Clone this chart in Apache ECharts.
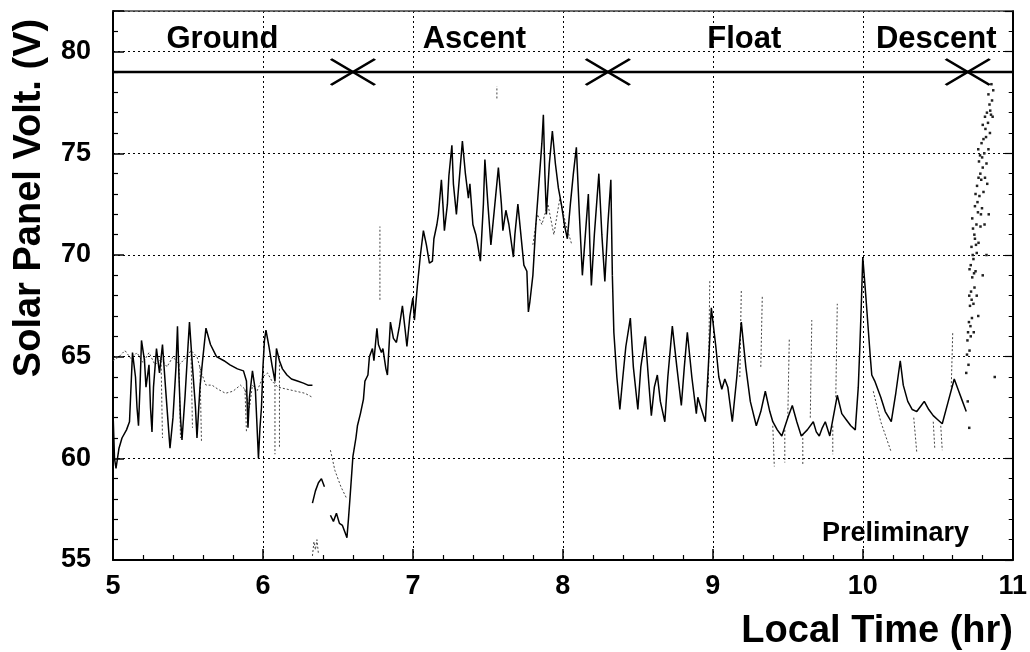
<!DOCTYPE html>
<html>
<head>
<meta charset="utf-8">
<script src="https://cdn.jsdelivr.net/npm/echarts@6/dist/echarts.min.js"></script>
<style>html,body{margin:0;padding:0;background:#fff}#c{width:1030px;height:652px}</style>
</head>
<body>
<div id="c"></div>
<script>
// ---- data (Local Time in hr, Solar Panel Voltage in V) ----
const groundTrace = [[5.00,62.3],[5.01,60.0],[5.02,59.5],[5.04,60.5],[5.06,61.0],[5.09,61.4],[5.11,61.8],[5.12,63.5],[5.13,65.2],[5.15,64.0],[5.16,62.5],[5.17,61.6],[5.18,63.5],[5.19,65.8],[5.21,64.8],[5.22,63.5],[5.24,64.6],[5.25,62.5],[5.26,61.3],[5.27,63.5],[5.29,65.4],[5.31,64.2],[5.33,65.6],[5.35,63.5],[5.37,61.5],[5.38,60.5],[5.40,62.0],[5.42,64.5],[5.43,66.5],[5.44,64.0],[5.45,62.0],[5.46,60.9],[5.48,63.0],[5.50,65.5],[5.51,66.7],[5.53,64.5],[5.55,62.5],[5.56,61.0],[5.58,63.5],[5.60,65.0],[5.62,66.4],[5.65,65.6],[5.69,65.0],[5.74,64.8],[5.78,64.6],[5.83,64.4],[5.87,64.3],[5.89,63.8],[5.90,61.5],[5.91,63.0],[5.93,64.3],[5.95,63.3],[5.97,60.0],[5.98,61.5],[5.99,62.5],[6.00,64.5],[6.01,65.8],[6.02,66.3],[6.04,65.5],[6.06,64.6],[6.08,63.8],[6.09,65.4],[6.11,64.8],[6.13,64.4],[6.16,64.1],[6.19,63.9],[6.23,63.8],[6.27,63.7],[6.30,63.6],[6.33,63.6]];
const lowAscentA = [[6.33,57.8],[6.35,58.4],[6.37,58.8],[6.39,59.0],[6.41,58.6]];
const ascentTrace = [[6.45,57.2],[6.47,56.9],[6.49,57.3],[6.51,56.8],[6.53,56.7],[6.55,56.3],[6.56,56.1],[6.57,57.0],[6.58,58.0],[6.60,60.1],[6.62,61.0],[6.63,61.6],[6.65,62.2],[6.67,62.9],[6.68,63.8],[6.70,64.1],[6.71,65.0],[6.73,65.4],[6.74,64.8],[6.76,66.4],[6.77,65.6],[6.79,65.2],[6.80,65.4],[6.82,64.4],[6.83,64.1],[6.85,66.7],[6.87,65.9],[6.89,65.7],[6.91,66.5],[6.93,67.5],[6.95,66.2],[6.96,65.5],[6.98,67.0],[7.00,67.9],[7.01,66.8],[7.03,68.5],[7.05,70.0],[7.07,71.2],[7.09,70.5],[7.11,69.6],[7.13,69.7],[7.14,70.8],[7.16,71.5],[7.17,72.0],[7.19,73.7],[7.20,72.5],[7.21,71.2],[7.23,72.5],[7.24,73.9],[7.26,75.4],[7.27,73.5],[7.29,72.0],[7.31,73.8],[7.33,75.6],[7.35,74.0],[7.37,72.8],[7.38,73.5],[7.40,71.5],[7.42,71.0],[7.43,70.6],[7.45,69.7],[7.47,72.5],[7.48,74.7],[7.50,72.5],[7.52,70.5],[7.54,72.0],[7.57,74.3],[7.59,72.5],[7.60,71.2],[7.62,72.2],[7.64,71.5],[7.67,69.9],[7.68,71.0],[7.70,72.5],[7.72,71.0],[7.74,69.5],[7.76,69.2],[7.77,67.2],[7.78,67.7],[7.80,69.0],[7.82,71.5],[7.84,73.5],[7.86,75.5],[7.87,76.9],[7.88,74.0],[7.89,72.0],[7.91,74.5],[7.93,76.1],[7.95,74.5],[7.97,73.3],[7.99,72.5],[8.01,71.5],[8.03,70.8],[8.05,72.5],[8.07,74.0],[8.09,75.3],[8.11,72.0],[8.13,69.0],[8.15,71.0],[8.17,73.0],[8.18,70.5],[8.19,68.5],[8.21,71.0],[8.24,74.0],[8.26,71.0],[8.28,68.7],[8.30,71.5],[8.32,73.7],[8.33,69.0]];
const floatTrace = [[8.33,69.0],[8.34,66.2],[8.36,64.0],[8.38,62.4],[8.40,64.0],[8.42,65.5],[8.45,66.9],[8.47,64.5],[8.50,62.4],[8.52,64.5],[8.55,66.0],[8.57,64.0],[8.59,62.1],[8.61,63.5],[8.63,64.1],[8.65,62.8],[8.68,61.8],[8.70,64.0],[8.73,66.5],[8.76,64.5],[8.79,62.6],[8.81,64.5],[8.83,66.2],[8.86,64.0],[8.89,62.2],[8.90,63.0],[8.92,62.5],[8.95,61.8],[8.97,64.5],[8.99,67.4],[9.02,65.5],[9.04,64.0],[9.06,63.4],[9.08,63.9],[9.10,63.5],[9.13,61.8],[9.16,64.0],[9.19,66.7],[9.22,64.5],[9.25,62.8],[9.29,61.6],[9.32,62.3],[9.35,63.3],[9.38,62.3],[9.40,61.8],[9.43,61.4],[9.46,61.1],[9.50,62.0],[9.53,62.6],[9.56,61.8],[9.59,61.1],[9.63,61.4],[9.67,61.8],[9.69,61.3],[9.71,61.1],[9.73,61.5],[9.75,61.8],[9.78,61.1],[9.81,62.3],[9.83,63.1],[9.86,62.2],[9.89,61.9],[9.92,61.6],[9.95,61.4],[9.97,63.5],[9.98,65.4],[9.99,67.5],[10.00,69.9],[10.02,68.0],[10.03,67.0],[10.05,65.0],[10.06,64.1],[10.08,63.8],[10.09,63.8],[10.12,63.0],[10.15,62.3],[10.19,61.8],[10.22,63.2],[10.25,64.8],[10.27,63.6],[10.30,62.8],[10.33,62.4],[10.36,62.3],[10.39,62.6],[10.41,62.8],[10.44,62.4],[10.47,62.1],[10.50,61.9],[10.53,61.7],[10.57,62.8],[10.61,63.9],[10.64,63.3],[10.66,62.9],[10.69,62.3]];
// fainter overlapping traces (each is a separate stroke)
const lightTraces = [
  [[5.00,64.8],[5.04,65.0],[5.08,65.3],[5.12,64.9],[5.16,65.2],[5.20,64.7],[5.24,65.2],[5.28,64.6],[5.32,64.9],[5.36,64.5],[5.40,65.0],[5.44,64.6],[5.48,64.9],[5.52,65.3],[5.56,65.0],[5.59,64.2],[5.62,63.6],[5.66,63.6],[5.70,63.4],[5.75,63.2],[5.80,63.3],[5.85,63.6],[5.88,63.4],[5.91,62.5],[5.93,63.6],[5.96,63.3],[6.00,64.0],[6.03,64.2],[6.06,63.8],[6.10,63.5],[6.16,63.4],[6.22,63.3],[6.28,63.2],[6.33,63.0]],
  [[5.32,65.0],[5.33,61.0]], [[5.44,64.6],[5.45,61.0]], [[5.52,65.3],[5.53,61.5]], [[5.58,64.5],[5.59,60.8]],
  [[5.88,63.4],[5.89,61.3]], [[6.08,63.8],[6.08,60.2]], [[6.11,64.8],[6.11,60.5]],
  [[6.45,60.4],[6.48,59.4],[6.52,58.6],[6.56,58.0]],
  [[6.33,55.2],[6.34,55.9],[6.35,55.5],[6.36,56.0],[6.37,55.3]],
  [[6.78,67.8],[6.78,71.4]], [[7.56,77.7],[7.56,78.3]],
  [[7.80,70.5],[7.83,72.0],[7.86,71.5],[7.90,72.5],[7.94,71.0],[7.98,72.8],[8.02,71.5],[8.06,70.5]],
  [[8.97,63.5],[8.98,68.8]], [[9.18,64.0],[9.19,68.3]], [[9.32,64.5],[9.33,68.0]], [[9.50,62.0],[9.51,65.9]],
  [[9.65,62.0],[9.66,66.8]], [[9.82,63.0],[9.83,67.6]], [[10.59,63.5],[10.60,66.2]],
  [[9.40,61.6],[9.41,59.6]], [[9.48,61.4],[9.48,59.8]], [[9.60,61.2],[9.60,59.7]], [[9.80,61.6],[9.80,60.2]],
  [[10.07,63.3],[10.12,61.8],[10.19,60.3]], [[10.34,62.0],[10.36,60.3]], [[10.47,61.8],[10.48,60.5]], [[10.52,61.6],[10.53,60.4]]
];
const descentPoints = [[10.690,64.2],[10.705,64.6],[10.712,65.3],[10.698,65.8],[10.720,66.0],[10.708,66.7],[10.728,66.9],[10.715,67.5],[10.738,67.6],[10.722,68.2],[10.745,68.4],[10.730,68.9],[10.712,69.3],[10.752,69.2],[10.738,69.8],[10.760,70.1],[10.725,70.4],[10.748,70.8],[10.772,70.6],[10.735,71.3],[10.758,71.5],[10.785,71.4],[10.768,72.1],[10.748,72.4],[10.795,72.3],[10.778,72.9],[10.805,73.1],[10.762,73.4],[10.790,73.7],[10.815,73.8],[10.800,74.3],[10.775,74.6],[10.825,74.5],[10.810,75.0],[10.838,75.2],[10.792,75.5],[10.822,75.8],[10.848,76.0],[10.835,76.5],[10.815,76.8],[10.855,76.9],[10.845,77.4],[10.862,77.6],[10.870,78.1],[10.858,78.4],[10.840,72.0],[10.825,70.0],[10.800,69.0],[10.770,67.0],[10.700,62.8],[10.710,61.5],[10.880,64.0],
  [10.695,65.1],[10.702,66.2],[10.718,66.5],[10.710,68.0],[10.726,67.8],[10.720,69.5],[10.733,70.0],[10.742,69.1],[10.730,71.8],[10.744,71.0],[10.755,70.5],[10.752,73.0],[10.765,72.6],[10.772,73.8],[10.784,74.0],[10.770,75.2],[10.782,74.9],[10.796,74.8],[10.805,75.7],[10.800,76.4],[10.818,76.2],[10.828,77.0],[10.838,77.9],[10.850,77.1],[10.866,76.8],[10.788,72.0],[10.760,68.0],[10.830,73.5],[10.812,71.5],[10.740,66.2]];
const phaseNames = ['Ground','Ascent','Float','Descent'];
const phaseLabelX = [5.73, 7.41, 9.21, 10.49];
const phaseLabelY = 80.6;
const phaseBoundaries = [6.6, 8.3, 10.7];
const phaseLevel = 79;

const font = 'Liberation Sans';
const mainStyle = {color:'#000', width:1.5};
const series = [];
[groundTrace, lowAscentA, ascentTrace, floatTrace].forEach(seg => series.push({
  type:'line', data:seg, showSymbol:false, lineStyle:mainStyle, silent:true, z:3, animation:false
}));
lightTraces.forEach(seg => series.push({
  type:'line', data:seg, showSymbol:false, lineStyle:{color:'#444', width:1, type:[2,2]}, silent:true, z:2, animation:false
}));
series.push({type:'scatter', data:descentPoints, symbol:'rect', symbolSize:[2.5,2.5], itemStyle:{color:'#222', opacity:1}, silent:true, animation:false});
series.push({type:'line', data:[[5,phaseLevel],[11,phaseLevel]], showSymbol:false, lineStyle:{color:'#000', width:2.5}, silent:true, animation:false});
series.push({type:'scatter', data:phaseBoundaries.map(x=>[x,phaseLevel]), symbol:'path://M0,0 L44,26 M0,26 L44,0', symbolSize:[44,26],
  itemStyle:{color:'none', borderColor:'#000', borderWidth:2.5, opacity:1}, silent:true, animation:false});
series.push({type:'scatter', data:phaseNames.map((n,i)=>({value:[phaseLabelX[i],phaseLabelY], name:n})), symbolSize:0,
  itemStyle:{opacity:1},
  label:{show:true, position:'inside', formatter:p=>p.name, color:'#000', opacity:1, fontFamily:font, fontWeight:'bold', fontSize:31}, silent:true, animation:false});

const chart = echarts.init(document.getElementById('c'), null, {renderer:'canvas'});
chart.setOption({
  backgroundColor:'#fff',
  animation:false,
  grid:{left:113, right:17, top:11, bottom:92, containLabel:false},
  xAxis:[{
    type:'value', min:5, max:11, interval:1,
    axisLine:{show:true, onZero:false, lineStyle:{color:'#000', width:2}},
    axisTick:{show:true, inside:true, length:11, lineStyle:{color:'#000', width:1.5}},
    minorTick:{show:true, splitNumber:5, length:5, lineStyle:{color:'#000', width:1.2}},
    splitLine:{show:true, lineStyle:{color:'#000', width:1, type:[2,3]}},
    axisLabel:{color:'#000', fontFamily:font, fontWeight:'bold', fontSize:27, margin:13}
  },{
    type:'value', position:'top', min:5, max:11, interval:1,
    axisLine:{show:true, onZero:false, lineStyle:{color:'#444', width:1.5}},
    axisTick:{show:false}, axisLabel:{show:false}, splitLine:{show:false}
  }],
  yAxis:[{
    type:'value', min:55, max:82, interval:5,
    axisLine:{show:true, onZero:false, lineStyle:{color:'#000', width:2}},
    axisTick:{show:true, inside:true, length:11, lineStyle:{color:'#000', width:1.5}},
    minorTick:{show:true, splitNumber:5, length:5, lineStyle:{color:'#000', width:1.2}},
    splitLine:{show:true, lineStyle:{color:'#000', width:1, type:[2,3]}},
    axisLabel:{color:'#000', fontFamily:font, fontWeight:'bold', fontSize:27, margin:22,
      formatter:v => (v % 5 === 0 ? String(v) : '')}
  },{
    type:'value', position:'right', min:55, max:82, interval:5,
    axisLine:{show:true, onZero:false, lineStyle:{color:'#000', width:2}},
    axisTick:{show:true, inside:true, length:8, lineStyle:{color:'#000', width:1.2}},
    minorTick:{show:true, splitNumber:5, length:4, lineStyle:{color:'#000', width:1}},
    axisLabel:{show:false}, splitLine:{show:false}
  }],
  graphic:[
    {type:'text', x:30, y:198, rotation:Math.PI/2, silent:true,
     style:{text:'Solar Panel Volt. (V)', fill:'#000', font:'bold 38px "Liberation Sans"', align:'center', verticalAlign:'middle'}},
    {type:'text', x:1013, y:632, silent:true,
     style:{text:'Local Time (hr)', fill:'#000', font:'bold 38px "Liberation Sans"', align:'right', verticalAlign:'middle'}},
    {type:'text', x:822, y:534, silent:true,
     style:{text:'Preliminary', fill:'#000', font:'bold 27px "Liberation Sans"', align:'left', verticalAlign:'middle'}}
  ],
  series: series
});
</script>
</body>
</html>
